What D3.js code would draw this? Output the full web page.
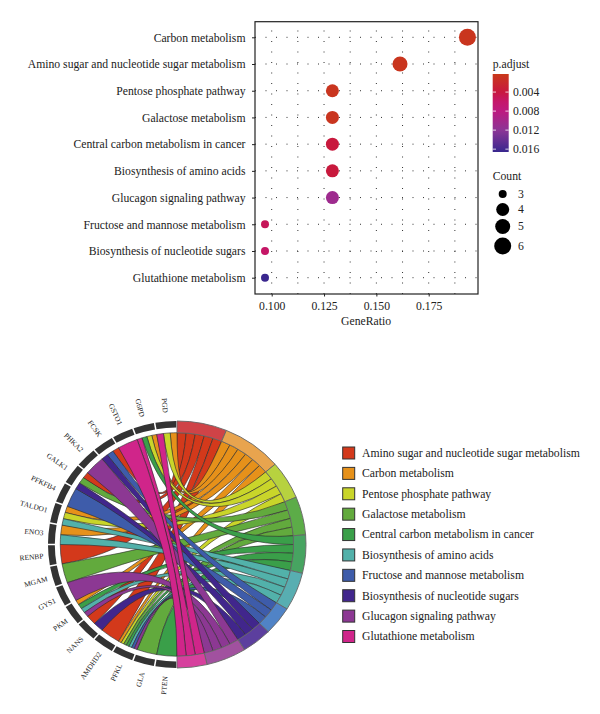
<!DOCTYPE html>
<html><head><meta charset="utf-8">
<script src="https://d3js.org/d3.v7.min.js"></script>
<style>html,body{margin:0;background:#fff}svg{display:block}text{font-family:"Liberation Serif",serif;fill:#222}</style>
</head><body><svg id="c" width="600" height="714"></svg>
<script>
// dot plot
const dotTerms=["Carbon metabolism","Amino sugar and nucleotide sugar metabolism","Pentose phosphate pathway","Galactose metabolism","Central carbon metabolism in cancer","Biosynthesis of amino acids","Glucagon signaling pathway","Fructose and mannose metabolism","Biosynthesis of nucleotide sugars","Glutathione metabolism"];
const geneRatio=[0.1935,0.1613,0.129,0.129,0.129,0.129,0.129,0.0968,0.0968,0.0968];
const counts=[6,5,4,4,4,4,4,3,3,3];
const padjust=[0.0006,0.0006,0.0007,0.0007,0.0038,0.0038,0.0105,0.0052,0.0058,0.0165];
const xTicks=[0.1,0.125,0.15,0.175];
const xGrid=[0.1,0.1125,0.125,0.1375,0.15,0.1625,0.175,0.1875];
const sizeLegend=[3,4,5,6];
const pTicks=[0.004,0.008,0.012,0.016];
const pStops=[0.0002,0.004,0.006,0.008,0.012,0.0166];
const pColors=["#c9391a","#c8173f","#c5166a","#bd1a80","#8c3596","#38278e"];
// chord
const legendTerms=["Amino sugar and nucleotide sugar metabolism","Carbon metabolism","Pentose phosphate pathway","Galactose metabolism","Central carbon metabolism in cancer","Biosynthesis of amino acids","Fructose and mannose metabolism","Biosynthesis of nucleotide sugars","Glucagon signaling pathway","Glutathione metabolism"];
const ribbonColors=["#d3391b","#e6911a","#c9d52a","#62aa3d","#3a9f49","#52b1aa","#3e5caa","#41268c","#8c3893","#d0258a"];
const arcColors=["#cf4347","#e8a44e","#b7d23f","#5cac48","#47a461","#58aeb1","#5083c6","#5c3f9e","#a1519f","#d6409d"];
const genes=["PTEN","GLA","PFKL","AMDHD2","NANS","PKM","GYS1","MGAM","RENBP","ENO3","TALDO1","PFKFB4","GALK1","PHKA2","FCSK","GSTO1","G6PD","PGD"];
const termGenes=[
 ["AMDHD2","NANS","RENBP","GALK1","FCSK"],
 ["PFKL","PKM","ENO3","TALDO1","G6PD","PGD"],
 ["PFKL","TALDO1","G6PD","PGD"],
 ["GLA","PFKL","MGAM","GALK1"],
 ["PTEN","PFKL","PKM","G6PD"],
 ["PFKL","PKM","ENO3","TALDO1"],
 ["PFKL","PFKFB4","FCSK"],
 ["NANS","GALK1","FCSK"],
 ["PFKL","PKM","GYS1","PHKA2"],
 ["GSTO1","G6PD","PGD"]];

const svg=d3.select("#c");
const FS=11.7;
const x=d3.scaleLinear().domain([0.1,0.175]).range([271.7,428.7]);
const y=d3.scalePoint().domain(dotTerms).range([37.3,277.7]);
const PL=255,PR=478,PT=21.7,PB=294;
const r=d3.scaleLinear().domain([3,4,5,6]).range([4,6.5,7.5,8.5]);
const col=d3.scaleLinear().domain(pStops).range(pColors);
const dp=svg.append("g");
dp.selectAll(".h").data(dotTerms).join("line").attr("x1",PL).attr("x2",PR).attr("y1",d=>y(d)).attr("y2",d=>y(d)).attr("stroke","#333").attr("stroke-width",1).attr("stroke-dasharray","1 9.5");
dp.selectAll(".v").data(xGrid).join("line").attr("x1",d=>x(d)).attr("x2",d=>x(d)).attr("y1",PB).attr("y2",PT).attr("stroke","#333").attr("stroke-width",1).attr("stroke-dasharray","1 9.5");
dp.selectAll("circle").data(dotTerms).join("circle").attr("cx",(d,i)=>x(geneRatio[i])).attr("cy",d=>y(d)).attr("r",(d,i)=>r(counts[i])).attr("fill",(d,i)=>col(padjust[i]));
dp.append("rect").attr("x",PL).attr("y",PT).attr("width",PR-PL).attr("height",PB-PT).attr("fill","none").attr("stroke","#222").attr("stroke-width",1.2);
const ax=dp.append("g").attr("transform",`translate(0,${PB})`).call(d3.axisBottom(x).tickValues(xTicks).tickFormat(d3.format(".3f")).tickSize(2.5).tickPadding(5));
ax.select(".domain").remove();
ax.selectAll("text").attr("font-size",FS).style("font-family","Liberation Serif");
ax.selectAll("line").attr("stroke","#222");
const ay=dp.append("g").attr("transform",`translate(${PL},0)`).call(d3.axisLeft(y).tickSize(3).tickPadding(6.5));
ay.select(".domain").remove();
ay.selectAll("text").attr("font-size",FS).style("font-family","Liberation Serif");
ay.selectAll("line").attr("stroke","#222");
dp.append("text").attr("x",366).attr("y",325).attr("text-anchor","middle").attr("font-size",FS).text("GeneRatio");
// colourbar
const cbY=d3.scaleLinear().domain([0.0002,0.0166]).range([74,152]);
const defs=svg.append("defs");
const lg=defs.append("linearGradient").attr("id","cb").attr("x1",0).attr("x2",0).attr("y1",0).attr("y2",1);
pStops.forEach((s,i)=>lg.append("stop").attr("offset",(cbY(s)-74)/78).attr("stop-color",pColors[i]));
svg.append("text").attr("x",492.7).attr("y",68).attr("font-size",FS).text("p.adjust");
svg.append("rect").attr("x",492.7).attr("y",74).attr("width",16).attr("height",78).attr("fill","url(#cb)");
const cbt=svg.append("g").selectAll("g").data(pTicks).join("g").attr("transform",d=>`translate(0,${cbY(d)})`);
cbt.append("line").attr("x1",492.7).attr("x2",496).attr("stroke","#fff").attr("stroke-width",.8);
cbt.append("line").attr("x1",505.4).attr("x2",508.7).attr("stroke","#fff").attr("stroke-width",.8);
cbt.append("text").attr("x",513).attr("y",4).attr("font-size",FS).text(d=>d3.format(".3f")(d));
svg.append("text").attr("x",492.7).attr("y",180).attr("font-size",FS).text("Count");
const ly=d3.scaleOrdinal().domain(sizeLegend).range([194,209.5,226.5,246]);
const sl=svg.append("g").selectAll("g").data(sizeLegend).join("g").attr("transform",d=>`translate(0,${ly(d)})`);
sl.append("circle").attr("cx",502.7).attr("r",d=>r(d)).attr("fill","#000");
sl.append("text").attr("x",518).attr("y",3.5).attr("font-size",FS).text(d=>d);

// chord
const cx=177,cy=544.5,Ry=123.5,Rx=129;
const rOuter=Ry,rTermIn=Ry*0.905,rGeneIn=Ry*0.947,rGeneOut=Ry,rRib=Ry*0.905;
const deg=Math.PI/180;
const total=d3.sum(termGenes,d=>d.length);
const unit=180/total;
const g=svg.append("g").attr("transform",`translate(${cx},${cy}) scale(${Rx/Ry},1)`);
const arc=d3.arc();
const links=[];
let a0=0;
const termSpans=termGenes.map((tg,t)=>{
  const sorted=tg.slice().sort((p,q)=>genes.indexOf(q)-genes.indexOf(p));
  const start=a0;
  sorted.forEach((gene,k)=>links.push({t,gene,ts:start+k*unit,te:start+(k+1)*unit}));
  a0+=tg.length*unit;
  return [start,a0];
});
genes.forEach((gene,gi)=>{
  const ls=links.filter(l=>l.gene===gene).sort((p,q)=>q.t-p.t);
  const w=10/ls.length,st=180+gi*10;
  ls.forEach((l,k)=>{l.gs=st+k*w;l.ge=st+(k+1)*w;});
});
const ribbon=d3.ribbon();
g.selectAll(".rib").data(links).join("path")
 .attr("d",l=>ribbon({source:{startAngle:l.ts*deg,endAngle:l.te*deg,radius:rRib},target:{startAngle:l.gs*deg,endAngle:l.ge*deg,radius:rRib}}))
 .attr("fill",l=>ribbonColors[l.t]).attr("stroke","#2a2a2a").attr("stroke-width",.6);
g.selectAll(".term").data(termSpans).join("path")
 .attr("d",s=>arc({innerRadius:rTermIn,outerRadius:rOuter,startAngle:s[0]*deg,endAngle:s[1]*deg}))
 .attr("fill",(s,i)=>arcColors[i]).attr("stroke","#666").attr("stroke-width",.9);
g.selectAll(".gene").data(genes).join("path")
 .attr("d",(d,i)=>arc({innerRadius:rGeneIn,outerRadius:rGeneOut,startAngle:(180+i*10+.35)*deg,endAngle:(190+i*10-.35)*deg}))
 .attr("fill","#333");
svg.selectAll(".gl").data(genes).join("text")
 .attr("transform",(d,i)=>{const a=185+i*10;
   return `translate(${cx+Rx*1.04*Math.sin(a*deg)},${cy-Ry*1.07*Math.cos(a*deg)}) rotate(${a-270})`;})
 .attr("text-anchor","end").attr("dy","0.32em").attr("font-size",7.4).text(d=>d);
// legend
const lgY=d3.scalePoint().domain(legendTerms).range([453,636.5]);
const lgg=svg.append("g").selectAll("g").data(legendTerms).join("g").attr("transform",d=>`translate(0,${lgY(d)})`);
lgg.append("rect").attr("x",342.7).attr("y",-6).attr("width",12).attr("height",12).attr("fill",(d,i)=>ribbonColors[i]).attr("stroke","#333").attr("stroke-width",1);
lgg.append("text").attr("x",362).attr("y",3.8).attr("font-size",FS).text(d=>d);
</script></body></html>
